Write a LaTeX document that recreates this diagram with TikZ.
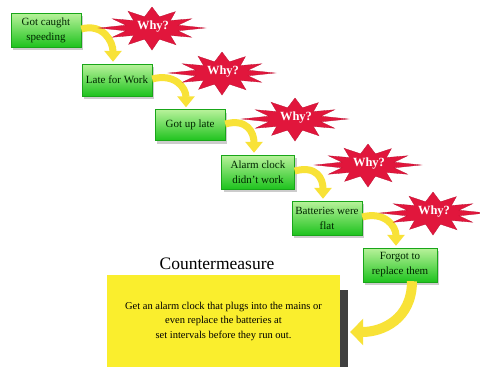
\documentclass[tikz,border=0pt]{standalone}
\usepackage{fontspec}
\setmainfont{Liberation Serif}
\usetikzlibrary{arrows.meta,shadows}
\definecolor{gtop}{RGB}{185,242,155}
\definecolor{gbot}{RGB}{30,195,30}
\definecolor{whyred}{RGB}{225,22,60}
\definecolor{ybox}{RGB}{250,238,45}
\definecolor{yarr}{RGB}{248,226,55}
\begin{document}
\begin{tikzpicture}[x=1pt,y=-1pt,
  gbox/.style={rectangle, top color=gtop, bottom color=gbot, draw=gbot!85!black,
    line width=0.4pt, minimum width=70pt, minimum height=34pt, align=center,
    font=\fontsize{11}{15}\selectfont, text=black!85!green, inner sep=2pt,
    drop shadow={shadow xshift=2pt,shadow yshift=-3pt,opacity=0.4}},
  whyfill/.style={fill=whyred, draw=whyred!85!black, line width=0.3pt},
  whytext/.style={text=white, font=\bfseries\fontsize{12.5}{14}\selectfont, inner sep=0pt},
  yarrow/.style={draw=yarr, line width=7pt, shorten >=2pt,
    -{Triangle[width=17pt,length=11pt]}},
  yarrowbig/.style={draw=yarr, line width=10pt,
    -{Triangle[width=26pt,length=13pt]}},
  ybstyle/.style={rectangle, fill=ybox, minimum width=233pt, minimum height=92pt,
    align=center, font=\fontsize{10.5}{14.5}\selectfont,
    drop shadow={shadow xshift=8pt,shadow yshift=-15pt,fill=black!75,opacity=1}},
  cmstyle/.style={font=\fontsize{17.5}{20}\selectfont, inner sep=0pt},
  whystar/.pic={
    \fill[whyfill] (53,0)
      \foreach \a/\f in {15/0.52,30/0.88,45/0.5,60/0.92,75/0.55,90/1.05,105/0.55,120/0.9,135/0.5,150/0.88,165/0.52,180/1.02,
                         195/0.52,210/0.88,225/0.5,240/0.92,255/0.55,270/1.0,285/0.55,300/0.9,315/0.5,330/0.88,345/0.52}
      { -- ({\f*52*cos(\a)},{\f*21*sin(\a)}) } -- cycle;
    \node[whytext] (-t) at (1,-1) {Why?};
  }]
\useasboundingbox (0,0) rectangle (480,367);
\fill[white] (0,0) rectangle (480,367);

% boxes
\node[gbox] (b1) at (46,30) {Got caught\\speeding};
\node[gbox,minimum height=32pt] (b2) at (117,80) {Late for Work};
\node[gbox,minimum height=31pt] (b3) at (190,125) {Got up late};
\node[gbox,minimum width=73pt] (b4) at (258,172) {Alarm clock\\didn't work};
\node[gbox] (b5) at (327,218) {Batteries were\\flat};
\node[gbox,minimum width=74pt] (b6) at (400,265) {Forgot to\\replace them};

% countermeasure
\node[cmstyle] (cm) at (217,264) {Countermeasure};
\node[ybstyle] (yb) at (223.5,321) {Get an alarm clock that plugs into the mains or\\even replace the batteries at\\set intervals before they run out.};

% arrows
\draw[yarrow] ([yshift=1pt]b1.east) .. controls +(22,-6) and +(0,-22) .. ([xshift=-4pt]b2.north);
\draw[yarrow] ([yshift=1pt]b2.east) .. controls +(22,-6) and +(0,-22) .. ([xshift=-4pt]b3.north);
\draw[yarrow] ([yshift=1pt]b3.east) .. controls +(22,-6) and +(0,-22) .. ([xshift=-4pt]b4.north);
\draw[yarrow] ([yshift=1pt]b4.east) .. controls +(22,-6) and +(0,-22) .. ([xshift=-4pt]b5.north);
\draw[yarrow] ([yshift=1pt]b5.east) .. controls +(22,-6) and +(0,-22) .. ([xshift=-4pt]b6.north);
\draw[yarrowbig] ([xshift=12pt,yshift=1pt]b6.south) .. controls +(0,38) and +(32,0) .. ([xshift=10pt,yshift=-11pt]yb.east);

% why stars
\pic (w1) at (152,28) {whystar};
\pic (w2) at (222,73) {whystar};
\pic (w3) at (295,119) {whystar};
\pic (w4) at (368,165) {whystar};
\pic (w5) at (433,213) {whystar};
\end{tikzpicture}
\end{document}
